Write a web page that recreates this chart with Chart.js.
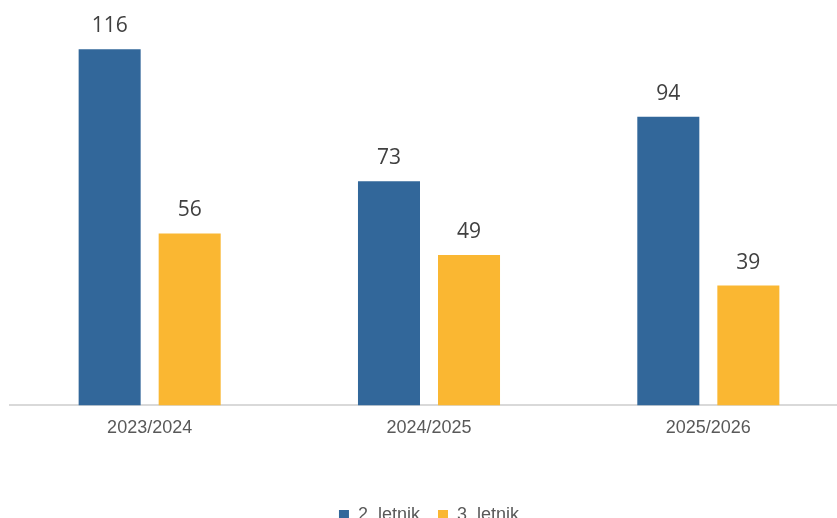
<!DOCTYPE html>
<html>
<head>
<meta charset="utf-8">
<script src="https://cdn.jsdelivr.net/npm/chart.js@4"></script>
<style>
  html, body { margin: 0; padding: 0; background: #fff; overflow: hidden; }
  #wrap { position: relative; width: 848px; height: 534px; }
</style>
</head>
<body>
<div id="wrap"><canvas id="letniki"></canvas></div>
<script>
var years = ["2023/2024", "2024/2025", "2025/2026"];
var letnik2 = [116, 73, 94];
var letnik3 = [56, 49, 39];
var seriesNames = ["2. letnik", "3. letnik"];

// values above bars
var valueLabels = {
    id: "valueLabels",
    afterDatasetsDraw: function(chart){
        var ctx = chart.ctx;
        ctx.save();
        ctx.font = "21px 'Open Sans'";
        ctx.fillStyle = "#404040";
        ctx.textAlign = "center";
        ctx.textBaseline = "middle";
        chart.data.datasets.forEach(function(ds, i){
            chart.getDatasetMeta(i).data.forEach(function(bar, j){
                ctx.fillText(ds.data[j], bar.x, bar.y - 23);
            });
        });
        ctx.restore();
    }
};

var ctx = document.getElementById("letniki").getContext("2d");
var chart = new Chart(ctx, {
    type: "bar",
    data: {
        labels: years,
        datasets: [
            { label: seriesNames[0], data: letnik2, backgroundColor: "#32679A",
              categoryPercentage: 0.573, barPercentage: 0.775 },
            { label: seriesNames[1], data: letnik3, backgroundColor: "#FAB732",
              categoryPercentage: 0.573, barPercentage: 0.775 }
        ]
    },
    options: {
        responsive: true,
        maintainAspectRatio: false,
        animation: false,
        layout: { padding: { left: 10, right: 0, top: 0, bottom: 0 } },
        plugins: {
            legend: {
                position: "bottom",
                labels: {
                    boxWidth: 10,
                    boxHeight: 10,
                    padding: 18,
                    color: "#595959",
                    font: { family: "'Liberation Sans', Arial", size: 18 }
                }
            },
            tooltip: { enabled: false }
        },
        scales: {
            x: {
                grid: { display: false, drawTicks: false },
                border: { display: true, color: "#D9D9D9", width: 2 },
                ticks: {
                    color: "#595959",
                    padding: 12,
                    font: { family: "'Liberation Sans', Arial", size: 18 }
                },
                afterFit: function(scale){ scale.height += 37; }
            },
            y: {
                display: false,
                min: 0,
                max: 132
            }
        }
    },
    plugins: [valueLabels]
});
</script>
</body>
</html>
